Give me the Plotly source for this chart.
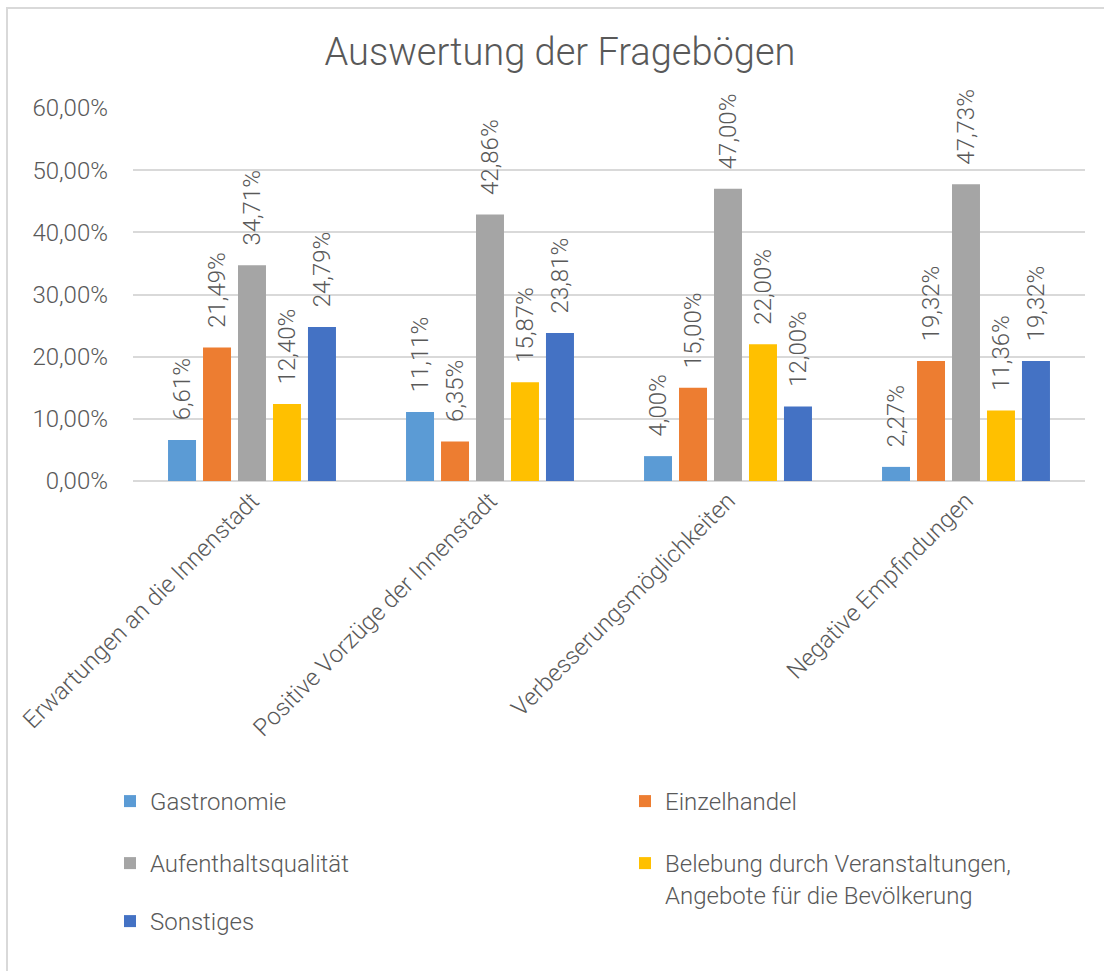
import plotly.graph_objects as go

categories = ["Erwartungen an die Innenstadt", "Positive Vorzüge der Innenstadt",
              "Verbesserungsmöglichkeiten", "Negative Empfindungen"]
gastronomie = [6.61, 11.11, 4.00, 2.27]
einzelhandel = [21.49, 6.35, 15.00, 19.32]
aufenthalt = [34.71, 42.86, 47.00, 47.73]
belebung = [12.40, 15.87, 22.00, 11.36]
sonstiges = [24.79, 23.81, 12.00, 19.32]

series_names = ["Gastronomie", "Einzelhandel", "Aufenthaltsqualität",
                "Belebung durch Veranstaltungen,<br>Angebote für die Bevölkerung", "Sonstiges"]
series_values = [gastronomie, einzelhandel, aufenthalt, belebung, sonstiges]
colors = ["#5B9BD5", "#ED7D31", "#A5A5A5", "#FFC000", "#4472C4"]
legend_ids = ["legend", "legend", "legend2", "legend2", "legend3"]

FONT = "Roboto"
TXT = "#595959"
FS = 24

W, H = 1104, 971
L, R, T, B = 133, 19, 108, 490
PW = W - L - R
PH = H - T - B


def px_to_px(x):
    return (x - L) / PW


def py_to_py(y):
    return (H - B - y) / PH


PAD = "\u00a0\u00a0\u2009"

fig = go.Figure()
for name, vals, col, lg in zip(series_names, series_values, colors, legend_ids):
    fig.add_trace(go.Bar(
        x=categories, y=vals, name=name,
        marker=dict(color=col, line=dict(width=0)),
        text=[PAD + f"{v:.2f}%".replace(".", ",") for v in vals],
        textposition="outside", textangle=-90, constraintext="none",
        textfont=dict(family=FONT, size=FS, color=TXT, weight=300),
        cliponaxis=False, legend=lg,
        hovertemplate="%{x}<br>%{y:.2f}%<extra></extra>",
    ))

leg_common = dict(orientation="h", xanchor="left", yanchor="top",
                  entrywidthmode="pixels", entrywidth=470,
                  font=dict(family=FONT, size=FS, color=TXT, weight=300),
                  bgcolor="rgba(0,0,0,0)", valign="top", traceorder="normal",
                  itemclick=False, itemdoubleclick=False)
lx = px_to_px(110)

fig.update_layout(
    width=W, height=H,
    margin=dict(l=L, r=R, t=T, b=B, autoexpand=False),
    paper_bgcolor="white", plot_bgcolor="white",
    separators=",.",
    barmode="group", bargap=0.265, bargroupgap=0.2,
    title=dict(text="Auswertung der Fragebögen", x=560 / W, xanchor="center",
               y=1 - 52 / H, yanchor="middle", yref="container",
               font=dict(family=FONT, size=38, color=TXT, weight=300)),
    xaxis=dict(tickangle=-45, showgrid=False, showline=False, ticks="",
               tickfont=dict(family=FONT, size=FS, color=TXT, weight=300)),
    yaxis=dict(range=[0, 60], dtick=10, tickformat=".2f", ticksuffix="%",
               showgrid=True, gridcolor="#D9D9D9", gridwidth=1.5,
               zeroline=True, zerolinecolor="#D9D9D9", zerolinewidth=1.5,
               showline=False, ticks="", ticklabelstandoff=24,
               tickfont=dict(family=FONT, size=FS, color=TXT, weight=300)),
    legend=dict(x=lx, y=py_to_py(779), **leg_common),
    legend2=dict(x=lx, y=py_to_py(841), **leg_common),
    legend3=dict(x=lx, y=py_to_py(899), **leg_common),
    shapes=[dict(type="rect", xref="paper", yref="paper",
                 x0=px_to_px(7), x1=px_to_px(1115), y0=py_to_py(8), y1=py_to_py(985),
                 line=dict(color="#D9D9D9", width=2), fillcolor="rgba(0,0,0,0)", layer="below")],
)

fig.write_html("out.html", config={"displayModeBar": False},
               post_script="document.body.style.margin='0';")
